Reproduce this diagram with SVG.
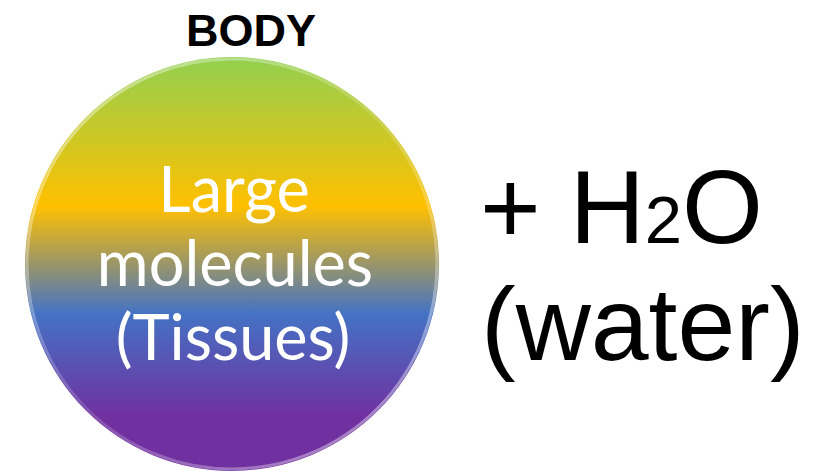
<svg xmlns="http://www.w3.org/2000/svg" width="823" height="474" viewBox="0 0 823 474">
  <style>
    .title { font-family: "Liberation Sans", Arial, sans-serif; font-weight: bold; font-size: 45px; fill: #000; }
    .inner { font-family: Lato, "Open Sans", sans-serif; font-size: 63px; fill: #ffffff; }
    .big { font-family: "Liberation Sans", Arial, sans-serif; font-size: 104px; fill: #000; }
  </style>
  <defs>
    <linearGradient id="bodyFill" x1="0" y1="0" x2="0" y2="1">
      <stop offset="0" stop-color="#92d050"/>
      <stop offset="0.36" stop-color="#ffc000"/>
      <stop offset="0.62" stop-color="#4472c4"/>
      <stop offset="0.87" stop-color="#7030a0"/>
      <stop offset="1" stop-color="#7030a0"/>
    </linearGradient>
    <linearGradient id="rim" x1="0" y1="0" x2="1" y2="1">
      <stop offset="0" stop-color="#ffffff" stop-opacity="0.5"/>
      <stop offset="0.5" stop-color="#ffffff" stop-opacity="0.15"/>
      <stop offset="1" stop-color="#ffffff" stop-opacity="0.5"/>
    </linearGradient>
  </defs>
  <g id="body-title">
    <text class="title" x="251" y="46" text-anchor="middle">BODY</text>
  </g>
  <g id="body-circle">
    <circle cx="232" cy="264" r="207" fill="url(#bodyFill)"/>
    <circle cx="232" cy="264" r="205" fill="none" stroke="url(#rim)" stroke-width="3"/>
    <text class="inner" x="234" y="212" text-anchor="middle">Large</text>
    <text class="inner" x="235" y="286" text-anchor="middle">molecules</text>
    <text class="inner" x="233" y="360" text-anchor="middle">(Tissues)</text>
  </g>
  <g id="water">
    <text class="big" x="480" y="243">+ H<tspan font-size="67">2</tspan>O</text>
    <text class="big" x="481" y="360">(water)</text>
  </g>
</svg>
